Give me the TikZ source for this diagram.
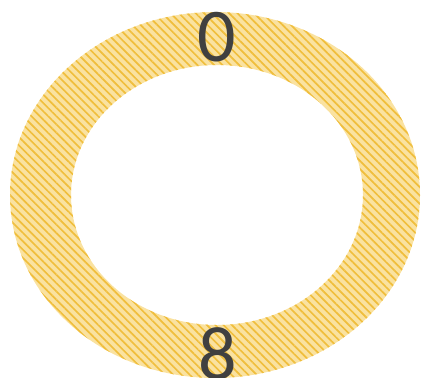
\documentclass[tikz,border=0pt]{standalone}
\usepackage{fontspec}
\setmainfont{Carlito}
\usetikzlibrary{patterns.meta}
\definecolor{ringbase}{HTML}{FAE2A0}
\definecolor{ringline}{HTML}{F0BE3C}
\definecolor{digitgray}{HTML}{404040}
\tikzset{
  ringfill/.style={fill=ringbase, even odd rule},
  ringhatch/.style={pattern={Lines[angle=-45, distance=4.2pt, line width=1.2pt]}, pattern color=ringline, even odd rule},
  digit/.style={font=\fontsize{54}{60}\selectfont, text=digitgray, inner sep=0pt},
}

\begin{document}
\begin{tikzpicture}
\useasboundingbox (0,0) rectangle (10.575,9.425);
\fill[ringfill] (5.375,4.55) ellipse (5.125 and 4.575) (5.425,4.55) ellipse (3.65 and 3.25);
\fill[ringhatch] (5.375,4.55) ellipse (5.125 and 4.575) (5.425,4.55) ellipse (3.65 and 3.25);
\node[digit] (top) at (5.425,8.5) {0};
\node[digit] (bottom) at (5.45,0.575) {8};
\end{tikzpicture}
\end{document}
